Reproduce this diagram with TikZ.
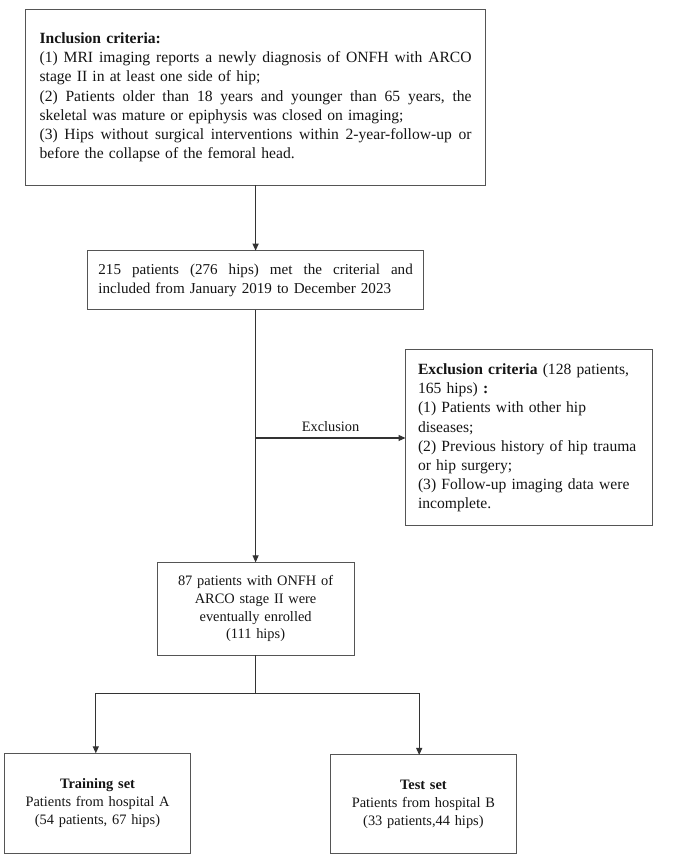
\documentclass[tikz,border=0pt]{standalone}
\usepackage{fontspec}
\setmainfont{Liberation Serif}
\usetikzlibrary{arrows.meta,calc}
\definecolor{boxgray}{HTML}{555555}
\definecolor{linegray}{HTML}{333333}
\definecolor{txt}{HTML}{151515}
\newcommand\jline[2]{\leavevmode\hbox to #1{\frenchspacing\spaceskip=0.25em plus 0.6em minus 0.06em\relax #2}}
\begin{document}
\begin{tikzpicture}[x=1pt,y=1pt,
  box/.style={draw=boxgray, line width=1pt, fill=white, text=txt, inner sep=0pt, outer sep=0pt},
  big/.style={font=\fontsize{15.6}{19.2}\selectfont},
  small/.style={font=\fontsize{14.4}{17.8}\selectfont},
  conn/.style={draw=linegray, line width=1.1pt},
  arr/.style={conn, -{Triangle[length=7pt,width=6pt]}}
]
\useasboundingbox[fill=white] (0,0) rectangle (685,859);

\node[box, big, align=left, text width=432pt, minimum width=460.7pt, minimum height=176pt] (incl) at (255.6,761.7)
{\textbf{Inclusion criteria:}\\
\jline{432pt}{(1) MRI imaging reports a newly diagnosis of ONFH with ARCO}\\
stage II in at least one side of hip;\\
\jline{432pt}{(2) Patients older than 18 years and younger than 65 years, the}\\
skeletal was mature or epiphysis was closed on imaging;\\
\jline{432pt}{(3) Hips without surgical interventions within 2-year-follow-up or}\\
before the collapse of the femoral head.};

\node[box, font=\fontsize{15.1}{18.3}\selectfont, align=left, text width=314.4pt, minimum width=336.7pt, minimum height=59.3pt] (b215) at (255.6,578.65)
{\jline{314.4pt}{215 patients (276 hips) met the criterial and}\\
included from January 2019 to December 2023};

\node[box, big, align=left, text width=222pt, minimum width=247pt, minimum height=176pt] (excl) at (529,421)
{\textbf{Exclusion criteria} (128 patients,\\
165 hips) \textbf{:}\\
(1) Patients with other hip\\
diseases;\\
(2) Previous history of hip trauma\\
or hip surgery;\\
(3) Follow-up imaging data were\\
incomplete.};

\node[box, small, align=center, text width=190pt, minimum width=197.2pt, minimum height=92.7pt] (b87) at (255.6,250.3)
{87 patients with ONFH of\\ ARCO stage II were\\ eventually enrolled\\ (111 hips)};

\node[box, small, align=center, text width=180pt, minimum width=186.2pt, minimum height=100pt] (train) at (97.5,55.7)
{\textbf{Training set}\\ Patients from hospital A\\ (54 patients, 67 hips)};

\node[box, small, align=center, text width=180pt, minimum width=186.8pt, minimum height=99pt] (test) at (423.4,54.5)
{\textbf{Test set}\\ Patients from hospital B\\ (33 patients,44 hips)};

\draw[arr] (incl.south) -- (incl.south |- b215.north);
\draw[arr] (b215.south -| incl.south) -- (incl.south |- b87.north);
\coordinate (j1) at (incl.south |- excl.west);
\draw[arr] (j1) -- node[above=6pt, inner sep=0pt, small, text=txt] (exlab) {Exclusion} (excl.west);

\coordinate (sp) at ($(b87.south)+(0,-38.3)$);
\coordinate (bl) at (95.8,165.7);
\coordinate (br) at (419.2,165.7);
\draw[conn] (b87.south) -- (sp);
\draw[conn] (bl) -- (br);
\draw[arr] (bl) -- (bl |- train.north);
\draw[arr] (br) -- (br |- test.north);
\end{tikzpicture}
\end{document}
